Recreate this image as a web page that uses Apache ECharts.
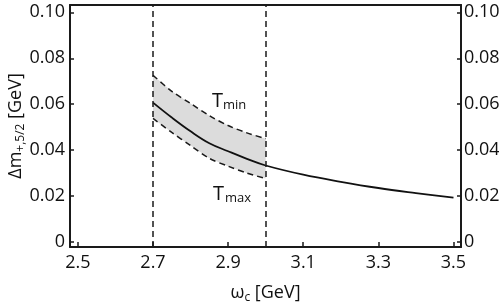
<!DOCTYPE html>
<html><head><meta charset="utf-8">
<script src="https://cdn.jsdelivr.net/npm/echarts@6/dist/echarts.min.js"></script>
<style>html,body{margin:0;padding:0;background:#fff}#c{width:499px;height:305px}</style>
</head><body><div id="c"></div>
<script>
var xTicks = [2.5, 2.7, 2.9, 3.1, 3.3, 3.5];
var yTicks = [0, 0.02, 0.04, 0.06, 0.08, 0.10];
var bandX = [2.70, 2.75, 2.80, 2.85, 2.90, 2.95, 3.00];
var upper = [0.0726, 0.0656, 0.0603, 0.0550, 0.0507, 0.0475, 0.0450];
var lower = [0.0538, 0.0477, 0.0420, 0.0364, 0.0330, 0.0300, 0.0276];
var centralX = [2.70, 2.75, 2.80, 2.85, 2.90, 2.95, 3.00, 3.10, 3.20, 3.30, 3.40, 3.50];
var central = [0.0607, 0.0542, 0.0482, 0.0430, 0.0395, 0.0362, 0.0333, 0.0293, 0.0262, 0.0235, 0.0213, 0.0193];
var vLines = [2.7, 3.0];

var FONT = 'Open Sans';
function pairs(xs, ys){ return xs.map(function(x,i){return [x, ys[i]];}); }

var chart = echarts.init(document.getElementById('c'));
var axisLineStyle = {color:'#1a1a1a', width:2};
var subRich = {s:{fontFamily:FONT, fontSize:12, lineHeight:12, padding:[10,0,0,0], color:'#111'}};
var yAxisCommon = {
  type:'value', min:-0.0022, max:0.1032,
  axisLine:{show:true, lineStyle:axisLineStyle},
  axisTick:{show:true, inside:true, length:4, lineStyle:{color:'#1a1a1a', width:1.5}, customValues:yTicks},
  axisLabel:{color:'#111', fontFamily:FONT, fontSize:18, customValues:yTicks,
    formatter:function(v){ return Math.abs(v) < 1e-9 ? '0' : v.toFixed(2); }},
  splitLine:{show:false}
};
chart.setOption({
  animation:false,
  grid:{left:70, right:38, top:5, bottom:58, show:false, containLabel:false, outerBoundsMode:'none'},
  xAxis:[{
    type:'value', min:2.479, max:3.52, position:'bottom',
    axisLine:{show:true, lineStyle:axisLineStyle, onZero:false},
    axisTick:{show:true, inside:true, length:5, lineStyle:{color:'#1a1a1a', width:1.5}, customValues:xTicks},
    axisLabel:{color:'#111', fontFamily:FONT, fontSize:18, margin:7, customValues:xTicks,
      formatter:function(v){return v.toFixed(1);}},
    splitLine:{show:false},
    name:'ω{s|c} [GeV]', nameLocation:'middle', nameGap:37,
    nameTextStyle:{color:'#111', fontFamily:FONT, fontSize:18, rich:subRich}
  },{
    type:'value', min:2.479, max:3.52, position:'top',
    axisLine:{show:true, lineStyle:axisLineStyle, onZero:false},
    axisTick:{show:false}, axisLabel:{show:false}, splitLine:{show:false}
  }],
  yAxis:[
    Object.assign({}, yAxisCommon, {position:'left',
      axisLabel:Object.assign({}, yAxisCommon.axisLabel, {margin:5}),
      name:'Δm{s|+,5/2} [GeV]', nameLocation:'middle', nameGap:45, nameRotate:90,
      nameMoveOverlap:false,
      nameTextStyle:{color:'#111', fontFamily:FONT, fontSize:18, rich:subRich}}),
    Object.assign({}, yAxisCommon, {position:'right',
      axisLabel:Object.assign({}, yAxisCommon.axisLabel, {margin:3})})
  ],
  series:[
    {type:'custom', silent:true, z:1,
      data:pairs(bandX, upper),
      renderItem:function(params, api){
        if (params.dataIndex !== 0) return null;
        var pts = [];
        for (var i=0;i<bandX.length;i++) pts.push(api.coord([bandX[i], upper[i]]));
        for (var j=bandX.length-1;j>=0;j--) pts.push(api.coord([bandX[j], lower[j]]));
        return {type:'polygon', shape:{points:pts}, style:{fill:'#dcdcdc', stroke:null}};
      }},
    {type:'line', data:pairs(bandX, upper), symbol:'none', smooth:0.3, lineStyle:{color:'#1a1a1a', width:1.5, type:[6,4]}},
    {type:'line', data:pairs(bandX, lower), symbol:'none', smooth:0.3, lineStyle:{color:'#1a1a1a', width:1.5, type:[6,4]}},
    {type:'line', data:pairs(centralX, central), symbol:'none', smooth:0.4, lineStyle:{color:'#111', width:1.8},
      markLine:{symbol:'none', silent:true, label:{show:false},
        lineStyle:{color:'#1a1a1a', width:1.5, type:[6,4]},
        data:vLines.map(function(v){return {xAxis:v};})}}
  ],
  graphic:[
    {type:'text', left:212, top:91, style:{text:'T', font:'20px "Open Sans"', fill:'#111'}},
    {type:'text', left:223, top:99, style:{text:'min', font:'13px "Open Sans"', fill:'#111'}},
    {type:'text', left:213, top:184, style:{text:'T', font:'20px "Open Sans"', fill:'#111'}},
    {type:'text', left:225, top:192, style:{text:'max', font:'13px "Open Sans"', fill:'#111'}}
  ]
});
</script></body></html>
